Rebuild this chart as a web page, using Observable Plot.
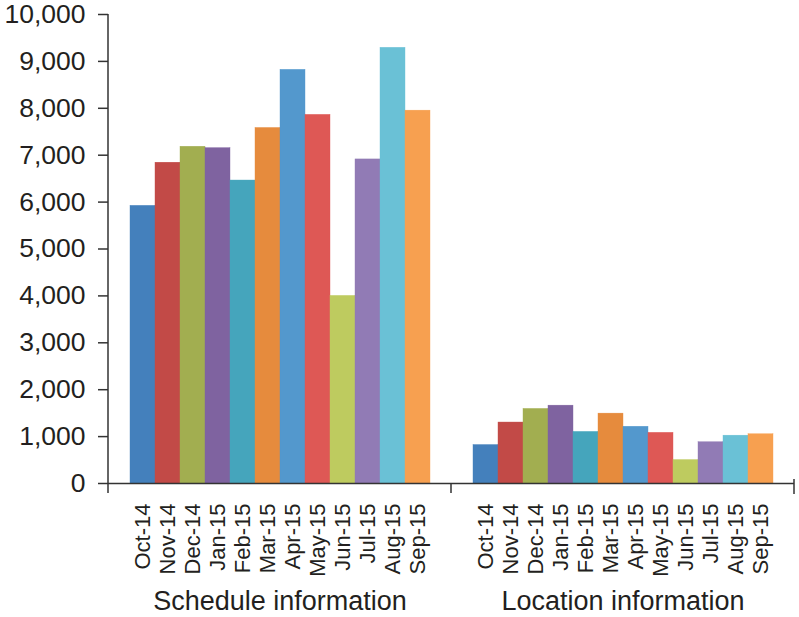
<!DOCTYPE html>
<html>
<head>
<meta charset="utf-8">
<script src="https://cdn.jsdelivr.net/npm/d3@7"></script>
<script src="https://cdn.jsdelivr.net/npm/@observablehq/plot@0.6"></script>
<style>
  html, body { margin: 0; padding: 0; background: #fff; }
  #chart { width: 799px; height: 617px; }
</style>
</head>
<body>
<div id="chart"></div>
<script>
const groups = ["Schedule information", "Location information"];
const months = ["Oct-14", "Nov-14", "Dec-14", "Jan-15", "Feb-15", "Mar-15", "Apr-15", "May-15", "Jun-15", "Jul-15", "Aug-15", "Sep-15"];
const scheduleValues = [5920, 6840, 7180, 7150, 6460, 7580, 8820, 7860, 4000, 6910, 9290, 7950];
const locationValues = [820, 1300, 1590, 1660, 1100, 1490, 1210, 1080, 500, 880, 1020, 1050];
const monthColors = ["#4480bc", "#c24a47", "#a2ae50", "#7f63a0", "#45a5bc", "#e68b3d", "#5398cd", "#de5855", "#becb5f", "#917bb5", "#6ac1d6", "#f7a050"];
const yTicks = [0, 1000, 2000, 3000, 4000, 5000, 6000, 7000, 8000, 9000, 10000];

const data = [];
months.forEach((m, i) => data.push({group: groups[0], month: m, value: scheduleValues[i]}));
months.forEach((m, i) => data.push({group: groups[1], month: m, value: locationValues[i]}));

const ink = "#231f20";
const axisInk = "#333333";

const plot = Plot.plot({
  width: 799,
  height: 617,
  marginLeft: 108,
  marginRight: 5,
  marginTop: 14,
  marginBottom: 134,
  style: {fontFamily: "'Liberation Sans', Arial, Helvetica, sans-serif", color: ink, background: "#fff", overflow: "visible"},
  fx: {domain: groups, padding: 0, label: null},
  x: {domain: months, paddingInner: 0, paddingOuter: 0.8, label: null},
  y: {domain: [0, 10000], label: null},
  color: {domain: months, range: monthColors},
  marks: [
    Plot.barY(data, {fx: "group", x: "month", y: "value", fill: "month", stroke: "month", strokeWidth: 0.4}),
    Plot.ruleY([0], {stroke: axisInk, strokeWidth: 1.5}),
    Plot.axisY({ticks: yTicks, tickSize: 10, tickPadding: 13, tickFormat: d3.format(","), fontSize: 26.5, stroke: axisInk, strokeWidth: 1.5, label: null}),
    Plot.axisX({tickRotate: -90, tickSize: 0, tickPadding: 20, fontSize: 22, label: null}),
    Plot.axisFx({anchor: "bottom", tickSize: 0, tickPadding: 107, fontSize: 27, label: null})
  ]
});

document.getElementById("chart").appendChild(plot);

// Axis lines derived from the plot's own scales
const svg = d3.select(plot.tagName.toLowerCase() === "svg" ? plot : plot.querySelector("svg"));
const yS = plot.scale("y");
const fxS = plot.scale("fx");
const y0 = yS.apply(0);
const yTop = yS.apply(10000);
const xLeft = fxS.apply(groups[0]);
const bw = fxS.bandwidth;
const g = svg.append("g").attr("stroke", axisInk).attr("stroke-width", 1.5);
g.append("line").attr("x1", xLeft).attr("x2", xLeft).attr("y1", yTop).attr("y2", y0 + 10);
g.append("line").attr("x1", fxS.apply(groups[1])).attr("x2", fxS.apply(groups[1])).attr("y1", y0).attr("y2", y0 + 10);
const xRight = fxS.apply(groups[1]) + bw;
g.append("line").attr("x1", xRight).attr("x2", xRight).attr("y1", y0 - 4).attr("y2", y0 + 11);
</script>
</body>
</html>
